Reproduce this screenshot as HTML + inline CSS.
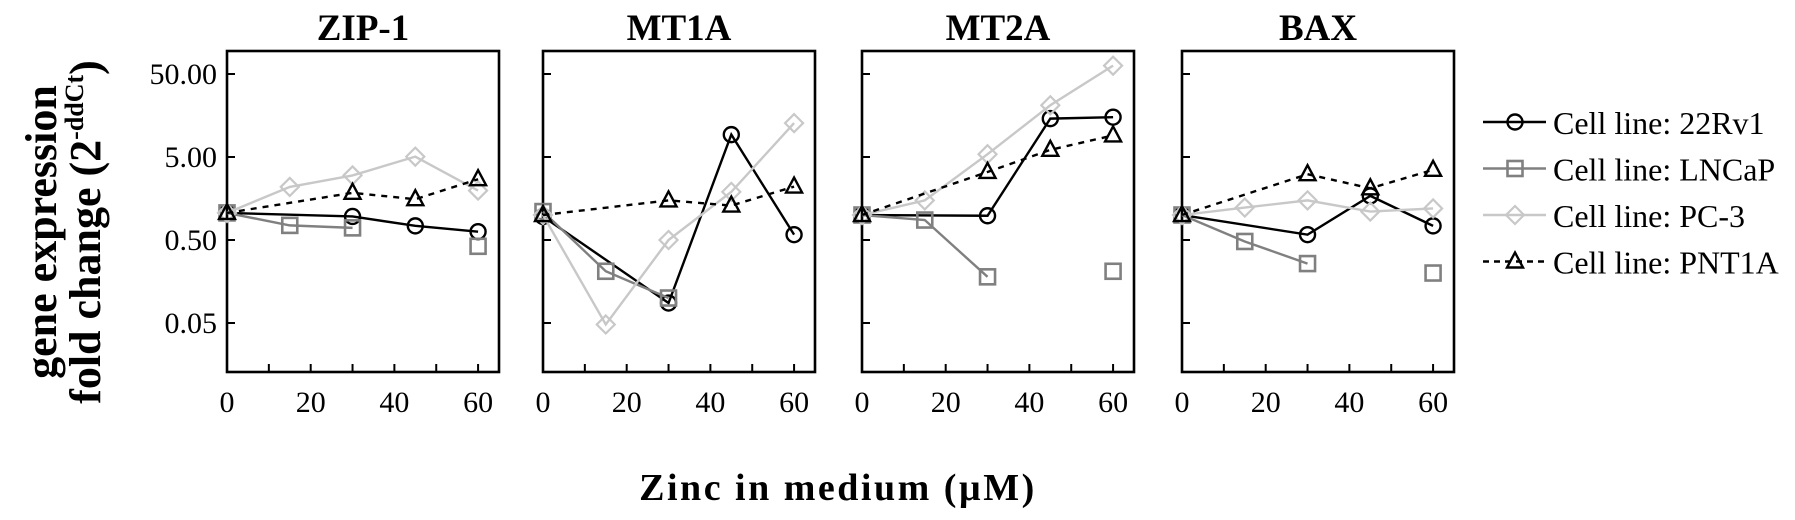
<!DOCTYPE html>
<html><head><meta charset="utf-8"><style>
body{margin:0;background:#fff;}
svg{display:block;font-family:"Liberation Serif",serif;}
</style></head><body>
<svg id="chart" width="1795" height="520" viewBox="0 0 1795 520" xmlns="http://www.w3.org/2000/svg">
<g id="axisTitles">
<text transform="translate(56,232) rotate(-90)" text-anchor="middle" font-size="44" font-weight="bold">gene expression</text>
<text transform="translate(100,232) rotate(-90)" text-anchor="middle" font-size="44" font-weight="bold">fold change (2<tspan font-size="26" dy="-17">-ddCt</tspan><tspan dy="17">)</tspan></text>
<text x="838" y="500" text-anchor="middle" font-size="38" font-weight="bold" letter-spacing="2.5">Zinc in medium (µM)</text>
</g>
</svg>
<script>
const panels = ["ZIP-1","MT1A","MT2A","BAX"];
const xValues = [0,15,30,45,60];
const seriesNames = ["Cell line: 22Rv1","Cell line: LNCaP","Cell line: PC-3","Cell line: PNT1A"];
const zip1_22Rv1 = [1.06,null,0.96,0.74,0.63];
const zip1_LNCaP = [1.06,0.75,0.70,null,0.42];
const zip1_PC3 = [1.06,2.18,3.0,5.05,1.97];
const zip1_PNT1A = [1.06,null,1.85,1.55,2.7];
const mt1a_22Rv1 = [0.96,null,0.087,9.3,0.58];
const mt1a_LNCaP = [1.1,0.21,0.10,null,null];
const mt1a_PC3 = [1.0,0.048,0.5,1.9,12.8];
const mt1a_PNT1A = [1.0,null,1.5,1.3,2.2];
const mt2a_22Rv1 = [1.0,null,0.98,14.5,15.1];
const mt2a_LNCaP = [1.0,0.87,0.18,null,0.21];
const mt2a_PC3 = [1.0,1.5,5.4,21,63];
const mt2a_PNT1A = [1.0,null,3.3,6.1,9.1];
const bax_22Rv1 = [1.0,null,0.58,1.7,0.74];
const bax_LNCaP = [1.0,0.48,0.26,null,0.20];
const bax_PC3 = [1.0,1.23,1.5,1.1,1.2];
const bax_PNT1A = [1.0,null,3.1,2.1,3.5];
const yTicks = [50,5,0.5,0.05];
const yTickLabels = ["50.00","5.00","0.50","0.05"];
const xTicks = [0,20,40,60];

const panelData = [
 [zip1_22Rv1,zip1_LNCaP,zip1_PC3,zip1_PNT1A],
 [mt1a_22Rv1,mt1a_LNCaP,mt1a_PC3,mt1a_PNT1A],
 [mt2a_22Rv1,mt2a_LNCaP,mt2a_PC3,mt2a_PNT1A],
 [bax_22Rv1,bax_LNCaP,bax_PC3,bax_PNT1A]];
const styles=[{c:"#000",m:"circle",d:null},{c:"#808080",m:"square",d:null},{c:"#c8c8c8",m:"diamond",d:null},{c:"#000",m:"triangle",d:"6,6"}];
const NS="http://www.w3.org/2000/svg";
const svgEl=document.getElementById("chart");
const panelLefts=[227,543,862,1182], pw=272, plotTop=51, plotBottom=372;
const y50=74, decade=83;
function ys(v){return y50+(Math.log10(50)-Math.log10(v))*decade;}
function mk(tag,attrs,parent){const e=document.createElementNS(NS,tag);for(const k in attrs)e.setAttribute(k,attrs[k]);(parent||svgEl).appendChild(e);return e;}
function marker(g,type,x,y,c){
 let e;
 if(type==="circle")e=mk("circle",{cx:x,cy:y,r:7.5,fill:"none",stroke:c,"stroke-width":2.4},g);
 else if(type==="square")e=mk("rect",{x:x-7.5,y:y-7.5,width:15,height:15,fill:"none",stroke:c,"stroke-width":2.6},g);
 else if(type==="diamond")e=mk("polygon",{points:`${x},${y-9} ${x+9},${y} ${x},${y+9} ${x-9},${y}`,fill:"none",stroke:c,"stroke-width":2.2},g);
 else e=mk("polygon",{points:`${x},${y-9} ${x+8},${y+6} ${x-8},${y+6}`,fill:"none",stroke:c,"stroke-width":2.4},g);
 return e;
}
panels.forEach((name,pi)=>{
 const L=panelLefts[pi];
 const xs=v=>L+v/65*pw;
 const g=mk("g",{});
 
 
 const t=mk("text",{x:L+pw/2,y:40,"text-anchor":"middle","font-size":37,"font-weight":"bold"},g);
 t.textContent=name;
 
 
 const fr=mk("rect",{x:L,y:plotTop,width:pw,height:plotBottom-plotTop,fill:"none",stroke:"#000","stroke-width":2.6},g);
 
 
 yTicks.forEach((v,i)=>{
  const y=ys(v);
  mk("line",{x1:L,x2:L+8,y1:y,y2:y,stroke:"#000","stroke-width":2},g);
  if(pi===0){const tl=mk("text",{x:L-10,y:y+10,"text-anchor":"end","font-size":30},g);tl.textContent=yTickLabels[i];
   
   }
 });
 for(let v=10;v<65;v+=10){mk("line",{x1:xs(v),x2:xs(v),y1:plotBottom,y2:plotBottom-8,stroke:"#000","stroke-width":2},g);}
 xTicks.forEach(v=>{const tl=mk("text",{x:xs(v),y:412,"text-anchor":"middle","font-size":30},g);tl.textContent=v;
  
  });
 panelData[pi].forEach((vals,si)=>{
  const s=styles[si];
  const sg=mk("g",{},g);
  
  
  let pts=[];
  vals.forEach((v,i)=>{if(v!=null)pts.push([xs(xValues[i]),ys(v)]);});
  let segs=[],cur=[];
  vals.forEach((v,i)=>{
   if(v==null){ if(si===1){ if(cur.length)segs.push(cur); cur=[]; } return; }
   cur.push([xs(xValues[i]),ys(v)]);
  });
  if(cur.length)segs.push(cur);
  segs.forEach(sp=>{if(sp.length>1){const pl=mk("polyline",{points:sp.map(p=>p.join(",")).join(" "),fill:"none",stroke:s.c,"stroke-width":2.4},sg);if(s.d)pl.setAttribute("stroke-dasharray",s.d);}});
  pts.forEach(p=>marker(sg,s.m,p[0],p[1],s.c));
 });
});
const lg=mk("g",{});


seriesNames.forEach((n,i)=>{
 const s=styles[i], y=122+i*46.5;
 const e=mk("g",{},lg);
 
 
 const ln=mk("line",{x1:1483,x2:1546,y1:y,y2:y,stroke:s.c,"stroke-width":2.4},e);
 if(s.d)ln.setAttribute("stroke-dasharray","6,5");
 marker(e,s.m,1515,y,s.c);
 const t=mk("text",{x:1553,y:y+12,"font-size":32},e);
 t.textContent=n;
});
</script>
</body></html>
